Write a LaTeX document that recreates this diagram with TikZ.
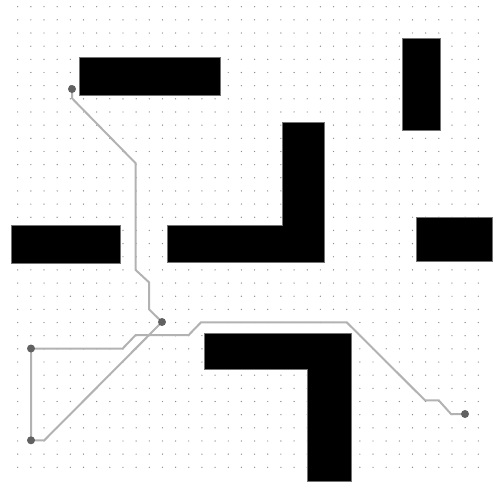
\documentclass[tikz,border=0pt]{standalone}
\usepackage{xcolor}
\usepackage{tikz}
\usetikzlibrary{backgrounds}

\begin{document}
\begin{tikzpicture}[
    x=1pt, y=-1pt,
    griddot/.style={fill=black!45},
    obstacle/.style={fill=black, draw=black!55, line width=0.8pt},
    route/.style={draw=black!30, line width=2pt, line join=miter},
    waypt/.style={circle, fill=black!62, inner sep=0pt, minimum size=8pt},
  ]
  \useasboundingbox (0,0) rectangle (496,483);

  % Waypoints
  \node[waypt] (src) at (72,89) {};
  \node[waypt] (hub) at (162,322) {};
  \node[waypt] (west) at (31,348.5) {};
  \node[waypt] (south) at (31,440.3) {};
  \node[waypt] (goal) at (465,414) {};

  \begin{pgfonlayer}{background}
    % Dot grid
    \foreach \i in {0,...,35}
      \foreach \j in {0,...,35}
        \fill[griddot] (17.7+13.16*\i, 6.7+13.16*\j) circle (0.7);

    % Obstacles
    \path[obstacle] (79.3,57.3) rectangle (220.7,95.3);
    \path[obstacle] (402.7,38.3) rectangle (440.3,130.3);
    \path[obstacle] (282.7,122.3) -- (324.3,122.3) -- (324.3,262) -- (167.7,262)
      -- (167.7,225.3) -- (282.7,225.3) -- cycle;
    \path[obstacle] (11,225.3) rectangle (120.7,263.7);
    \path[obstacle] (416.3,217) rectangle (492,261.3);
    \path[obstacle] (204.3,333.3) -- (351.3,333.3) -- (351.3,481) -- (307.7,481)
      -- (307.7,369.3) -- (204.3,369.3) -- cycle;

    % Routes
    \draw[route] (src.center) -- (72,98.3) -- (135.7,163.3) -- (135.7,270)
      -- (149,282.3) -- (149,309.3) -- (hub.center);
    \draw[route] (west.center) -- (122.7,348.5) -- (135.7,335) -- (188.7,335)
      -- (201,322.3) -- (346.7,322.3) -- (425,400.3) -- (438.7,400.3)
      -- (451,414) -- (goal.center);
    \draw[route] (west.center) -- (south.center) -- (44.3,440.3) -- (hub.center);
  \end{pgfonlayer}

\end{tikzpicture}
\end{document}
